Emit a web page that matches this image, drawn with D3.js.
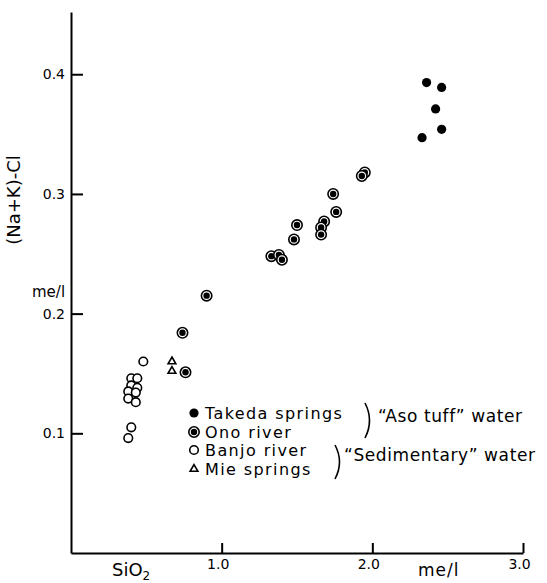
<!DOCTYPE html>
<html lang="en">
<head>
<meta charset="UTF-8">
<title>(Na+K)-Cl vs SiO2</title>
<script src="https://d3js.org/d3.v7.min.js"></script>
<style>
  body { margin: 0; background: #fff; }
  svg text { font-family: "DejaVu Sans", sans-serif; fill: #000; }
  .axis path, .axis line { stroke: #000; stroke-width: 2; }
  .axis text { font-size: 14px; }
  .legend text { font-size: 16px; letter-spacing: 1.4px; }
  .group { font-size: 17px; letter-spacing: 0.6px; }
</style>
</head>
<body>
<script>
// SiO2 (me/l) vs (Na+K)-Cl (me/l)
const takedaX = [2.36, 2.46, 2.42, 2.46, 2.33];
const takedaY = [0.393, 0.389, 0.371, 0.354, 0.347];

const onoX = [1.95, 1.93, 1.74, 1.76, 1.68, 1.66, 1.66, 1.50, 1.48, 1.33, 1.38, 1.40, 0.90, 0.74, 0.76];
const onoY = [0.318, 0.315, 0.300, 0.285, 0.277, 0.272, 0.266, 0.274, 0.262, 0.248, 0.249, 0.245, 0.215, 0.184, 0.151];

const banjoX = [0.48, 0.40, 0.44, 0.40, 0.44, 0.38, 0.43, 0.38, 0.43, 0.40, 0.38];
const banjoY = [0.160, 0.146, 0.146, 0.140, 0.138, 0.135, 0.134, 0.129, 0.126, 0.105, 0.096];

const mieX = [0.67, 0.67];
const mieY = [0.160, 0.152];

const xTicks = [1.0, 2.0, 3.0];
const yTicks = [0.1, 0.2, 0.3, 0.4];

const legendLabels = ["Takeda springs", "Ono river", "Banjo river", "Mie springs"];
const groupLabels = ["\u201CAso tuff\u201D water", "\u201CSedimentary\u201D water"];

const W = 547, H = 583;
const svg = d3.select("body").append("svg")
  .attr("width", W).attr("height", H);

const x = d3.scaleLinear().domain([0, 3]).range([71, 523]);
const y = d3.scaleLinear().domain([0, 0.452]).range([553, 12]);

// axes, ticks pointing inward
svg.append("g").attr("class", "axis")
  .attr("transform", "translate(0,553)")
  .call(d3.axisBottom(x).tickValues(xTicks).tickFormat(d3.format(".1f"))
    .tickSizeInner(-10).tickSizeOuter(0).tickPadding(6))
  .selectAll("text").attr("dx", -4);

svg.append("g").attr("class", "axis")
  .attr("transform", "translate(71,0)")
  .call(d3.axisLeft(y).tickValues(yTicks).tickFormat(d3.format(".1f"))
    .tickSizeInner(-12).tickSizeOuter(0).tickPadding(6));

// axis titles
svg.append("text")
  .attr("transform", "translate(20,200) rotate(-90)")
  .attr("text-anchor", "middle")
  .style("font-size", "18px")
  .text("(Na+K)-Cl");
svg.append("text").attr("x", 32).attr("y", 297).style("font-size", "15px").text("me/l");

const siText = svg.append("text").attr("x", 112).attr("y", 576).style("font-size", "18px");
siText.append("tspan").text("SiO");
siText.append("tspan").attr("dy", 4).style("font-size", "12px").text("2");
svg.append("text").attr("x", 418).attr("y", 576).style("font-size", "17px")
  .style("letter-spacing", "1px").text("me/l");

// marker painters
function filled(g, cx, cy) {
  g.append("circle").attr("cx", cx).attr("cy", cy).attr("r", 4.6).attr("fill", "#000");
}
function ringed(g, cx, cy) {
  g.append("circle").attr("cx", cx).attr("cy", cy).attr("r", 5.2)
    .attr("fill", "#fff").attr("stroke", "#000").attr("stroke-width", 1.6);
  g.append("circle").attr("cx", cx).attr("cy", cy).attr("r", 3.2).attr("fill", "#000");
}
function open(g, cx, cy) {
  g.append("circle").attr("cx", cx).attr("cy", cy).attr("r", 4.3)
    .attr("fill", "#fff").attr("stroke", "#000").attr("stroke-width", 1.6);
}
const tri = d3.symbol().type(d3.symbolTriangle).size(26);
function triangle(g, cx, cy) {
  g.append("path").attr("d", tri()).attr("transform", `translate(${cx},${cy})`)
    .attr("fill", "#fff").attr("stroke", "#000").attr("stroke-width", 1.6);
}

const series = [
  { xs: takedaX, ys: takedaY, draw: filled },
  { xs: onoX, ys: onoY, draw: ringed },
  { xs: banjoX, ys: banjoY, draw: open },
  { xs: mieX, ys: mieY, draw: triangle }
];

const pts = svg.append("g");
series.forEach(s => {
  s.xs.forEach((v, i) => s.draw(pts, x(v), y(s.ys[i])));
});

// legend
const lg = svg.append("g").attr("class", "legend").attr("transform", "translate(194,0)");
const rowY = [413, 432, 450, 469];
series.forEach((s, i) => {
  s.draw(lg, 0, rowY[i]);
  lg.append("text").attr("x", 11).attr("y", rowY[i] + 6).text(legendLabels[i]);
});

// braces
function brace(x0, y0, y1) {
  const mid = (y0 + y1) / 2;
  svg.append("path")
    .attr("d", `M${x0},${y0} Q${x0 + 9},${mid} ${x0},${y1}`)
    .attr("fill", "none").attr("stroke", "#000").attr("stroke-width", 1.6);
}
brace(365, 403, 438);
brace(335, 445, 479);
svg.append("text").attr("class", "group").attr("x", 378).attr("y", 422).text(groupLabels[0]);
svg.append("text").attr("class", "group").attr("x", 344).attr("y", 461).text(groupLabels[1]);
</script>
</body>
</html>
